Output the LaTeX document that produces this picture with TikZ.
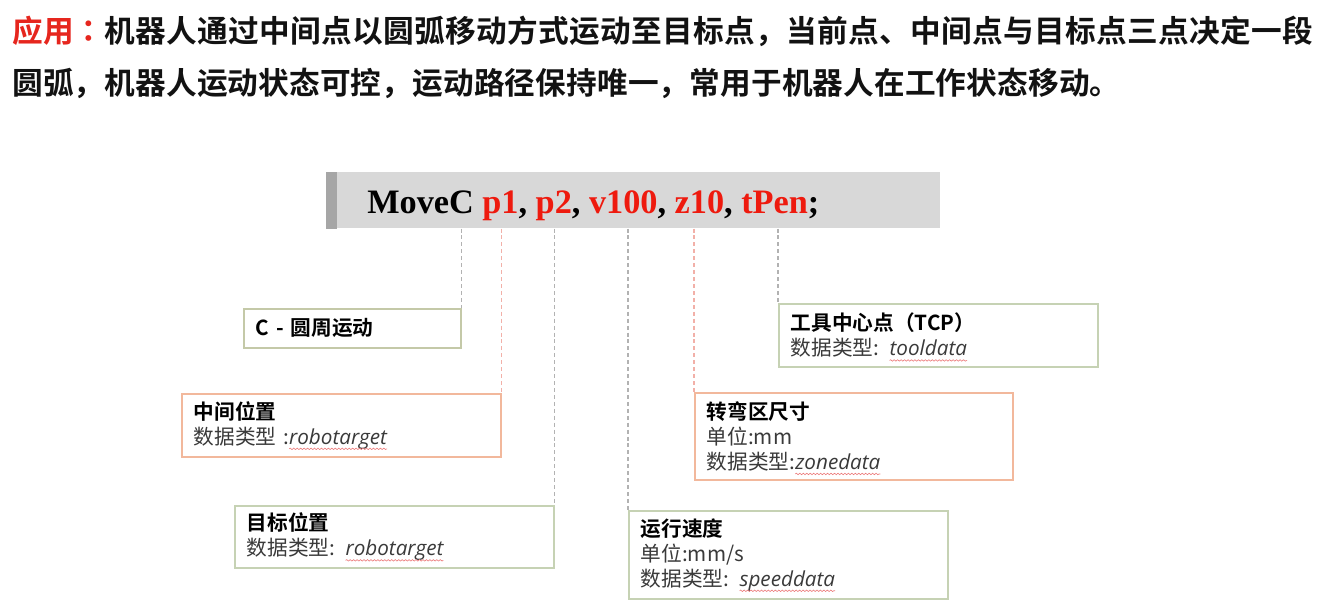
\documentclass[tikz,border=0pt]{standalone}
\usepackage{fontspec}
\usetikzlibrary{calc,decorations.pathmorphing}

\newfontfamily\cjk{Noto Sans CJK SC}[BoldFont={Noto Sans CJK SC Bold}]
\newfontfamily\cjkpunct{Noto Sans CJK TC}[BoldFont={Noto Sans CJK TC Bold}]
\newfontfamily\codefont{Liberation Serif}
\newfontfamily\latinit{Open Sans}

\definecolor{hdred}{RGB}{230,38,30}
\definecolor{codered}{RGB}{238,26,14}
\definecolor{barfill}{RGB}{216,216,216}
\definecolor{stripgray}{RGB}{166,166,166}
\definecolor{leadgray}{RGB}{178,178,178}
\definecolor{leadpink}{RGB}{242,176,168}
\definecolor{olivebd}{RGB}{196,201,168}
\definecolor{greenbd}{RGB}{198,210,180}
\definecolor{salmonbd}{RGB}{242,184,156}
\definecolor{bodygray}{RGB}{58,58,58}
\definecolor{spellred}{RGB}{236,120,120}

\tikzset{
  headline/.style={anchor=base west, inner sep=0pt,
    font=\cjk\bfseries\fontsize{23}{28}\selectfont, text=black!93},
  infobox/.style={anchor=north west, rectangle, line width=1.3pt, fill=white,
    inner xsep=9pt, inner ysep=0pt, align=left,
    font=\cjk\fontsize{15.5}{18.75}\selectfont, text=bodygray},
  leader/.style={draw=leadgray, line width=0.8pt, dash pattern=on 3pt off 2.2pt},
  leaderpink/.style={leader, draw=leadpink},
  squiggle/.style={draw=spellred, fill=none, line width=0.45pt, solid, decorate,
    decoration={snake, amplitude=0.55pt, segment length=2.6pt}},
}

\newlength\wordwd
\newcommand\boxtitle[1]{{\bfseries\color{black}#1}}
% italic type name with a thin red squiggle under it
\newcommand\typename[1]{%
  \settowidth\wordwd{\latinit\itshape #1}%
  \rlap{\latinit\itshape #1}%
  \tikz[overlay, baseline=0pt, x=1pt, y=1pt]\path[squiggle] (0,-3.4) -- (\wordwd,-3.4);%
  \hspace{\wordwd}}

\begin{document}
\begin{tikzpicture}[x=0.75pt, y=-0.75pt]
  \useasboundingbox (0,0) rectangle (1335,610);

  % description
  \node[headline] (line1) at (12,42.5)
    {\addfontfeature{LetterSpace=1.1}\textcolor{hdred}{应用{\cjkpunct\bfseries\addfontfeature{LetterSpace=1.1}：}}机器人通过中间点以圆弧移动方式运动至目标点，当前点、中间点与目标点三点决定一段};
  \node[headline] (line2) at (12,94.5)
    {\addfontfeature{LetterSpace=0.4}圆弧，机器人运动状态可控，运动路径保持唯一，常用于机器人在工作状态移动。};

  % instruction bar
  \node[anchor=north west, fill=barfill, inner sep=0pt,
        minimum width=460.5pt, minimum height=42pt] (bar) at (326,172) {};
  \fill[stripgray] (bar.north west) rectangle ($(bar.south west)+(11,0)$);
  \node[anchor=base west, inner sep=0pt,
        font=\codefont\bfseries\fontsize{25.7}{30}\selectfont] (code) at (367,213)
    {MoveC \textcolor{codered}{p1}, \textcolor{codered}{p2}, \textcolor{codered}{v100}, \textcolor{codered}{z10}, \textcolor{codered}{tPen};};

  % argument boxes
  \node[infobox, draw=olivebd, minimum width=162.75pt, minimum height=29.25pt,
        text width=144.75pt] (cbox) at (243,308)
    {\boxtitle{C - 圆周运动}};
  \node[infobox, draw=salmonbd, minimum width=239.25pt, minimum height=47.25pt,
        text width=221.25pt] (midbox) at (181,393)
    {\boxtitle{中间位置}\\数据类型 :\typename{robotarget}};
  \node[infobox, draw=greenbd, minimum width=239.25pt, minimum height=46.5pt,
        text width=221.25pt] (tgtbox) at (234,505)
    {\boxtitle{目标位置}\\数据类型: \typename{robotarget}};
  \node[infobox, draw=greenbd, minimum width=239.25pt, minimum height=66pt,
        text width=221.25pt] (spdbox) at (628,510)
    {\boxtitle{运行速度}\\单位:mm/s\\数据类型: \typename{speeddata}};
  \node[infobox, draw=salmonbd, minimum width=238.5pt, minimum height=65.25pt,
        text width=220.5pt] (zonebox) at (694,392)
    {\boxtitle{转弯区尺寸}\\单位:mm\\数据类型:\typename{zonedata}};
  \node[infobox, draw=greenbd, minimum width=239.25pt, minimum height=47.25pt,
        text width=221.25pt] (tcpbox) at (778,303)
    {\boxtitle{工具中心点（TCP）}\\数据类型: \typename{tooldata}};

  % leader lines from the instruction to each box
  \draw[leader]     (bar.south -| cbox.north east)   -- (cbox.north east);
  \draw[leaderpink] (bar.south -| midbox.north east) -- (midbox.north east);
  \draw[leader]     (bar.south -| tgtbox.north east) -- (tgtbox.north east);
  \draw[leader]     (bar.south -| spdbox.north west) -- (spdbox.north west);
  \draw[leaderpink] (bar.south -| zonebox.north west) -- (zonebox.north west);
  \draw[leader]     (bar.south -| tcpbox.north west) -- (tcpbox.north west);
\end{tikzpicture}
\end{document}
